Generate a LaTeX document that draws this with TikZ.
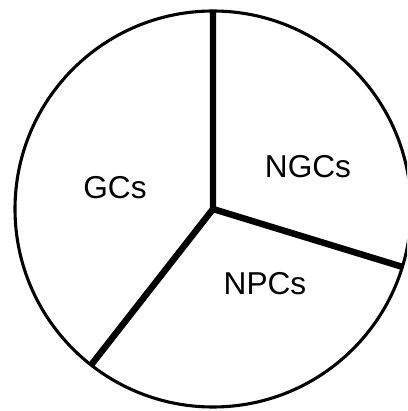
\documentclass[tikz,border=0pt]{standalone}
\usepackage{fontspec}
\setmainfont{Liberation Sans}

\begin{document}
\begin{tikzpicture}[
  font=\fontsize{22.5}{27}\selectfont,
  rim/.style={draw, line width=2.2pt},
  cut/.style={draw, line width=4.6pt},
  part/.style={align=center, inner sep=0pt}
]
\useasboundingbox (0,0) rectangle (10.175,10.275);
\clip (0,0) rectangle (10.175,10.275);

\coordinate (c) at (5.325,5.05);
\draw[rim] (c) circle (4.95);

\path (c) ++(90:4.95) coordinate (top);
\path (c) ++(-17:4.95) coordinate (right);
\path (c) ++(-128:4.95) coordinate (left);

\draw[cut] (top) -- (c) -- (right);
\draw[cut] (c) -- (left);

\node[part] (gcs) at (2.875,5.575) {GCs};
\node[part] (ngcs) at (7.7,6.1) {NGCs};
\node[part] (npcs) at (6.625,3.175) {NPCs};

\end{tikzpicture}
\end{document}
